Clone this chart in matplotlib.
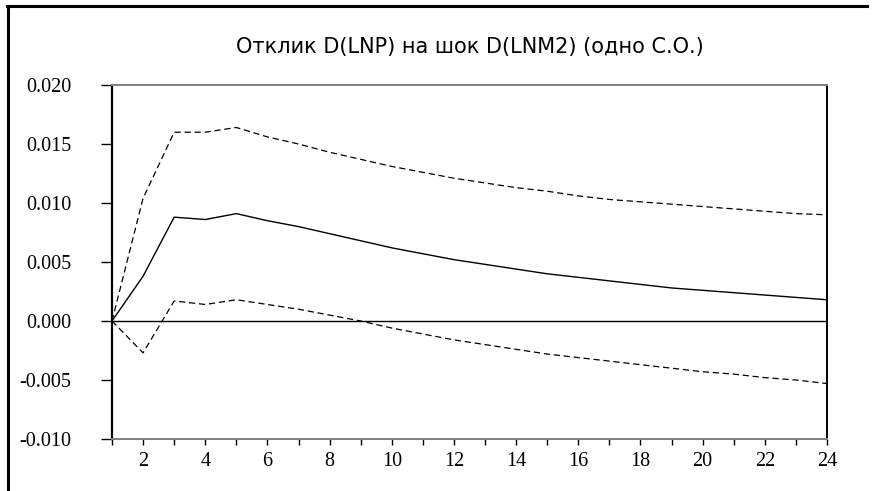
import numpy as np
import matplotlib.pyplot as plt
from matplotlib.lines import Line2D

# impulse response of D(LNP) to D(LNM2) shock, +/- 2 S.E. bands
periods = np.arange(1, 25)
response = [0.0, 0.0038, 0.0088, 0.0086, 0.0091, 0.0085, 0.0080, 0.0074,
            0.0068, 0.0062, 0.0057, 0.0052, 0.0048, 0.0044, 0.0040, 0.0037,
            0.0034, 0.0031, 0.0028, 0.0026, 0.0024, 0.0022, 0.0020, 0.0018]
upper = [0.0, 0.0104, 0.0160, 0.0160, 0.0164, 0.0156, 0.0150, 0.0143,
         0.0137, 0.0131, 0.0126, 0.0121, 0.0117, 0.0113, 0.0110, 0.0106,
         0.0103, 0.0101, 0.0099, 0.0097, 0.0095, 0.0093, 0.0091, 0.0090]
lower = [0.0, -0.0027, 0.0017, 0.0014, 0.0018, 0.0014, 0.0010, 0.0005,
         0.0000, -0.0006, -0.0011, -0.0016, -0.0020, -0.0024, -0.0028, -0.0031,
         -0.0034, -0.0037, -0.0040, -0.0043, -0.0045, -0.0048, -0.0050, -0.0053]
yticks = [-0.010, -0.005, 0.000, 0.005, 0.010, 0.015, 0.020]
title = 'Отклик D(LNP) на шок D(LNM2) (одно С.О.)'

fig = plt.figure(figsize=(8.72, 4.91), dpi=100)
ax = fig.add_axes([112/872, 1-439/491, (827-112)/872, (439-85)/491])

ax.plot(periods, response, color='black', lw=1.0)
ax.plot(periods, upper, color='black', lw=0.9, dashes=(5, 3))
ax.plot(periods, lower, color='black', lw=0.9, dashes=(5, 3))
ax.axhline(0, color='black', lw=1.0)

ax.set_xlim(1, 24)
ax.set_ylim(-0.010, 0.020)
ax.set_yticks(yticks)
ax.set_yticklabels(['%.3f' % v for v in yticks])
ax.set_xticks(periods)
ax.set_xticklabels([str(p) if p % 2 == 0 else '' for p in periods])

for lab in ax.get_xticklabels() + ax.get_yticklabels():
    lab.set_family('Liberation Serif')
    lab.set_fontsize(14.5)
ax.tick_params(axis='y', direction='out', length=8, width=1, pad=21.5)
ax.tick_params(axis='x', direction='out', length=4.5, width=1, pad=5)

ax.spines['left'].set_linewidth(1.6)
ax.spines['right'].set_linewidth(1.4)
ax.spines['top'].set_color('#808080')
ax.spines['bottom'].set_color('#808080')
ax.spines['top'].set_linewidth(1.4)
ax.spines['bottom'].set_linewidth(1.4)

fig.text(469.5/872, 1-46.5/491, title, ha='center', va='center',
         fontsize=15, family='DejaVu Sans')

# outer frame (left and top edges)
fig.add_artist(Line2D([7.5/872, 7.5/872], [0, 1-6/491], color='black', lw=2.2))
fig.add_artist(Line2D([6.5/872, 867/872], [1-6/491, 1-6/491], color='black', lw=2.2))

fig.savefig('out.png', dpi=100)
